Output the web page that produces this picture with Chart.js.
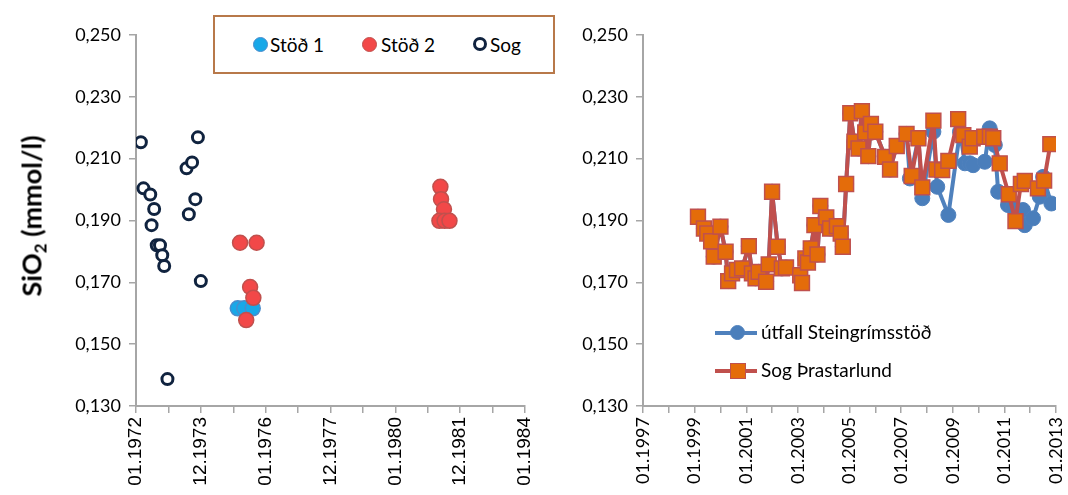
<!DOCTYPE html>
<html>
<head>
<meta charset="utf-8">
<script src="https://cdn.jsdelivr.net/npm/chart.js@4.4.1/dist/chart.umd.min.js"></script>
<style>
  html, body { margin:0; padding:0; background:#fff; }
  #wrap { position:relative; width:1068px; height:495px; overflow:hidden; font-family: Lato, "Open Sans", sans-serif; }
  canvas { position:absolute; top:0; }
  #c1 { left:0; }
  #c2 { left:540px; }
  .ytitle { position:absolute; left:31px; top:216px; transform: translate(-50%,-50%) rotate(-90deg); white-space:nowrap;
            font: bold 27px Lato, sans-serif; color:#000; }
  .ytitle sub { font-size:17px; vertical-align:-5px; line-height:0; }
  .lbox { position:absolute; left:213px; top:15px; width:338px; height:55px; border:2px solid #b8794a; background:#fff; }
  .li { position:absolute; font-size:19px; color:#000; line-height:19px; white-space:nowrap; }
  .dot { position:absolute; border-radius:50%; box-sizing:border-box; }
  .lline { position:absolute; height:4px; }
</style>
</head>
<body>
<div id="wrap">
  <canvas id="c1" width="540" height="495"></canvas>
  <canvas id="c2" width="528" height="495"></canvas>
  <div class="ytitle">SiO<sub>2</sub> (mmol/l)</div>

  <div class="lbox"></div>
  <div class="dot" style="left:253px;top:37px;width:15px;height:15px;background:#18a8e8;border:1.5px solid #4a8ccc;"></div>
  <div class="li" style="left:270px;top:35px;">Stöð 1</div>
  <div class="dot" style="left:362px;top:37px;width:15px;height:15px;background:#f24848;border:1.5px solid #c0504d;"></div>
  <div class="li" style="left:381px;top:35px;">Stöð 2</div>
  <div class="dot" style="left:473px;top:37px;width:14px;height:14px;background:#fff;border:3px solid #10233f;"></div>
  <div class="li" style="left:490px;top:35px;">Sog</div>

  <div class="lline" style="left:715px;top:331px;width:42px;background:#4f81bd;"></div>
  <div class="dot" style="left:730px;top:325px;width:15px;height:15px;background:#4a7ebb;border:1px solid #4f81bd;"></div>
  <div class="li" style="left:761px;top:322px;">útfall Steingrímsstöð</div>
  <div class="lline" style="left:715px;top:369px;width:42px;background:#c0504d;"></div>
  <div class="dot" style="left:730px;top:363px;width:16px;height:16px;border-radius:0;background:#e46c0a;border:1.5px solid #c0504d;"></div>
  <div class="li" style="left:761px;top:360px;">Sog Þrastarlund</div>
</div>
<script>
// ---------- Data (left chart) ----------
const leftTickLabels = ["01.1972","12.1973","01.1976","12.1977","01.1980","12.1981","01.1984"];
const stod1Dates  = [1975.14, 1975.34, 1975.60];
const stod1Values = [0.1616, 0.1616, 0.1616];
const stod2Dates  = [1975.21, 1975.72, 1975.52, 1975.62, 1975.40, 1981.39, 1981.41, 1981.50, 1981.36, 1981.52, 1981.67];
const stod2Values = [0.1828, 0.1828, 0.1685, 0.1650, 0.1578, 0.2009, 0.1969, 0.1936, 0.1899, 0.1899, 0.1899];
const sogDates  = [1972.15, 1972.23, 1972.44, 1972.56, 1972.48, 1972.64, 1972.74, 1972.81, 1972.87, 1972.97, 1973.56, 1973.73, 1973.63, 1973.83, 1973.91, 1974.00];
const sogValues = [0.2153, 0.2004, 0.1984, 0.1937, 0.1885, 0.1820, 0.1820, 0.1788, 0.1753, 0.1387, 0.2069, 0.2088, 0.1920, 0.1969, 0.2169, 0.1704];

// ---------- Data (right chart) ----------
const rightTickLabels = ["01.1997","01.1999","01.2001","01.2003","01.2005","01.2007","01.2009","01.2011","01.2013"];
const thrastDates = [1999.13,1999.36,1999.49,1999.64,1999.74,2000.00,2000.20,2000.30,2000.45,2000.64,2000.84,2001.10,2001.22,2001.36,2001.48,2001.77,2001.87,2002.00,2002.22,2002.38,2002.54,
  2003.09,2003.16,2003.29,2003.39,2003.50,2003.64,2003.76,2003.87,2004.10,2004.25,2004.51,2004.66,2004.74,2004.87,2005.03,2005.19,2005.35,2005.48,2005.61,2005.73,2005.83,2006.00,
  2006.38,2006.57,2006.83,2007.21,2007.41,2007.67,2007.82,2008.25,2008.37,2008.59,2008.83,2009.21,2009.41,2009.66,2009.77,2010.22,2010.44,2010.57,2010.82,2011.17,2011.43,2011.64,2011.79,2012.30,2012.54,2012.78];
const thrastValues = [0.1912,0.1874,0.1858,0.1833,0.1783,0.1880,0.1799,0.1704,0.1729,0.1740,0.1745,0.1817,0.1729,0.1713,0.1734,0.1702,0.1758,0.1993,0.1815,0.1745,0.1748,
  0.1723,0.1698,0.1777,0.1764,0.1810,0.1885,0.1790,0.1947,0.1910,0.1874,0.1882,0.1858,0.1815,0.2018,0.2247,0.2155,0.2133,0.2254,0.2185,0.2108,0.2212,0.2187,
  0.2106,0.2065,0.2141,0.2180,0.2044,0.2166,0.2007,0.2223,0.2065,0.2063,0.2093,0.2228,0.2176,0.2139,0.2166,0.2171,0.2171,0.2166,0.2085,0.1985,0.1898,0.2018,0.2028,0.2004,0.2029,0.2147];
const steinDates = [1999.13,1999.36,1999.49,1999.64,1999.74,2000.00,2000.20,2000.30,2000.45,2000.64,2000.84,2001.10,2001.22,2001.36,2001.48,2001.77,2001.87,2002.00,2002.22,2002.38,2002.54,
  2003.09,2003.16,2003.29,2003.39,2003.50,2003.64,2003.76,2003.87,2004.10,2004.25,2004.51,2004.66,2004.74,2004.87,2005.03,2005.19,2005.35,2005.48,2005.61,2005.73,2005.83,2006.00,
  2006.38,2006.57,2006.83,2007.21,2007.34,2007.67,2007.82,2008.25,2008.40,2008.83,2009.28,2009.47,2009.66,2009.79,2010.24,2010.43,2010.63,2010.76,2011.14,2011.34,2011.72,2011.79,2012.11,2012.37,2012.50,2012.82];
const steinValues = [0.1912,0.1874,0.1858,0.1833,0.1783,0.1880,0.1799,0.1704,0.1729,0.1740,0.1745,0.1817,0.1729,0.1713,0.1734,0.1702,0.1758,0.1993,0.1815,0.1745,0.1748,
  0.1723,0.1698,0.1777,0.1764,0.1810,0.1885,0.1790,0.1947,0.1910,0.1874,0.1882,0.1858,0.1815,0.2018,0.2247,0.2155,0.2133,0.2254,0.2185,0.2108,0.2212,0.2187,
  0.2106,0.2065,0.2141,0.2180,0.2036,0.2166,0.1972,0.2187,0.2009,0.1918,0.2187,0.2085,0.2085,0.2079,0.2090,0.2198,0.2144,0.1993,0.1950,0.1944,0.1934,0.1885,0.1907,0.1977,0.2041,0.1955];

const yMin = 0.13, yMax = 0.25, yStep = 0.02;

function pts(xs, ys) { return xs.map((x, i) => ({ x: x, y: ys[i] })); }

const axisGray = '#a6a6a6';
const tickFont = { family: 'Lato', size: 18 };

function yScale(width) {
  return {
    min: yMin, max: yMax,
    ticks: { stepSize: yStep, color: '#000', font: tickFont, padding: 8,
             callback: v => v.toFixed(3).replace('.', ',') },
    grid: { drawOnChartArea: false, drawTicks: true, tickLength: 7, tickColor: axisGray, lineWidth: 1.5 },
    border: { color: axisGray, width: 2 },
    afterFit: s => { s.width = width; s.paddingTop = 0; s.paddingBottom = 0; }
  };
}
function xScale(min, max, labels, font) {
  return {
    type: 'linear', min: min, max: max,
    ticks: { stepSize: 1, autoSkip: false, minRotation: 90, maxRotation: 90, color: '#000', font: font, padding: 4,
             callback: v => { const i = Math.round(v - min); return i % 2 === 0 ? labels[i / 2] : ''; } },
    grid: { drawOnChartArea: false, drawTicks: true, tickLength: 7, tickColor: axisGray, lineWidth: 1.5 },
    border: { color: axisGray, width: 2 },
    afterFit: s => { s.height = 89; s.paddingLeft = 0; s.paddingRight = 0; }
  };
}

new Chart(document.getElementById('c1'), {
  type: 'scatter',
  data: {
    datasets: [
      { label: 'Stöð 1', data: pts(stod1Dates, stod1Values), backgroundColor: '#18a8e8', borderColor: '#4a8ccc', borderWidth: 1.5, pointRadius: 7.5, order: 3 },
      { label: 'Stöð 2', data: pts(stod2Dates, stod2Values), backgroundColor: '#f24848', borderColor: '#c0504d', borderWidth: 1.5, pointRadius: 7.5, order: 2 },
      { label: 'Sog', data: pts(sogDates, sogValues), backgroundColor: '#ffffff', borderColor: '#10233f', borderWidth: 3, pointRadius: 5.5, order: 1 }
    ]
  },
  options: {
    responsive: false, animation: false,
    layout: { padding: { top: 35, right: 15, left: 0, bottom: 0 } },
    plugins: { legend: { display: false }, tooltip: { enabled: false } },
    scales: {
      x: xScale(1972, 1984, leftTickLabels, { family: 'Liberation Sans', size: 19 }),
      y: yScale(136)
    }
  }
});

new Chart(document.getElementById('c2'), {
  type: 'line',
  data: {
    datasets: [
      { label: 'útfall Steingrímsstöð', data: pts(steinDates, steinValues), borderColor: '#4f81bd', borderWidth: 4,
        borderJoinStyle: 'round', borderCapStyle: 'round',
        pointStyle: 'circle', pointRadius: 7.5, pointBackgroundColor: '#4a7ebb', pointBorderColor: '#4f81bd', pointBorderWidth: 1, tension: 0, order: 2 },
      { label: 'Sog Þrastarlund', data: pts(thrastDates, thrastValues), borderColor: '#c0504d', borderWidth: 4,
        borderJoinStyle: 'round', borderCapStyle: 'round',
        pointStyle: 'rect', pointRadius: 10.5, pointBackgroundColor: '#e46c0a', pointBorderColor: '#c0504d', pointBorderWidth: 1.5, tension: 0, order: 1 }
    ]
  },
  options: {
    responsive: false, animation: false,
    layout: { padding: { top: 35, right: 10, left: 0, bottom: 0 } },
    plugins: { legend: { display: false }, tooltip: { enabled: false } },
    scales: {
      x: xScale(1997, 2013, rightTickLabels, { family: 'Lato', size: 18 }),
      y: yScale(103)
    }
  }
});
</script>
</body>
</html>
